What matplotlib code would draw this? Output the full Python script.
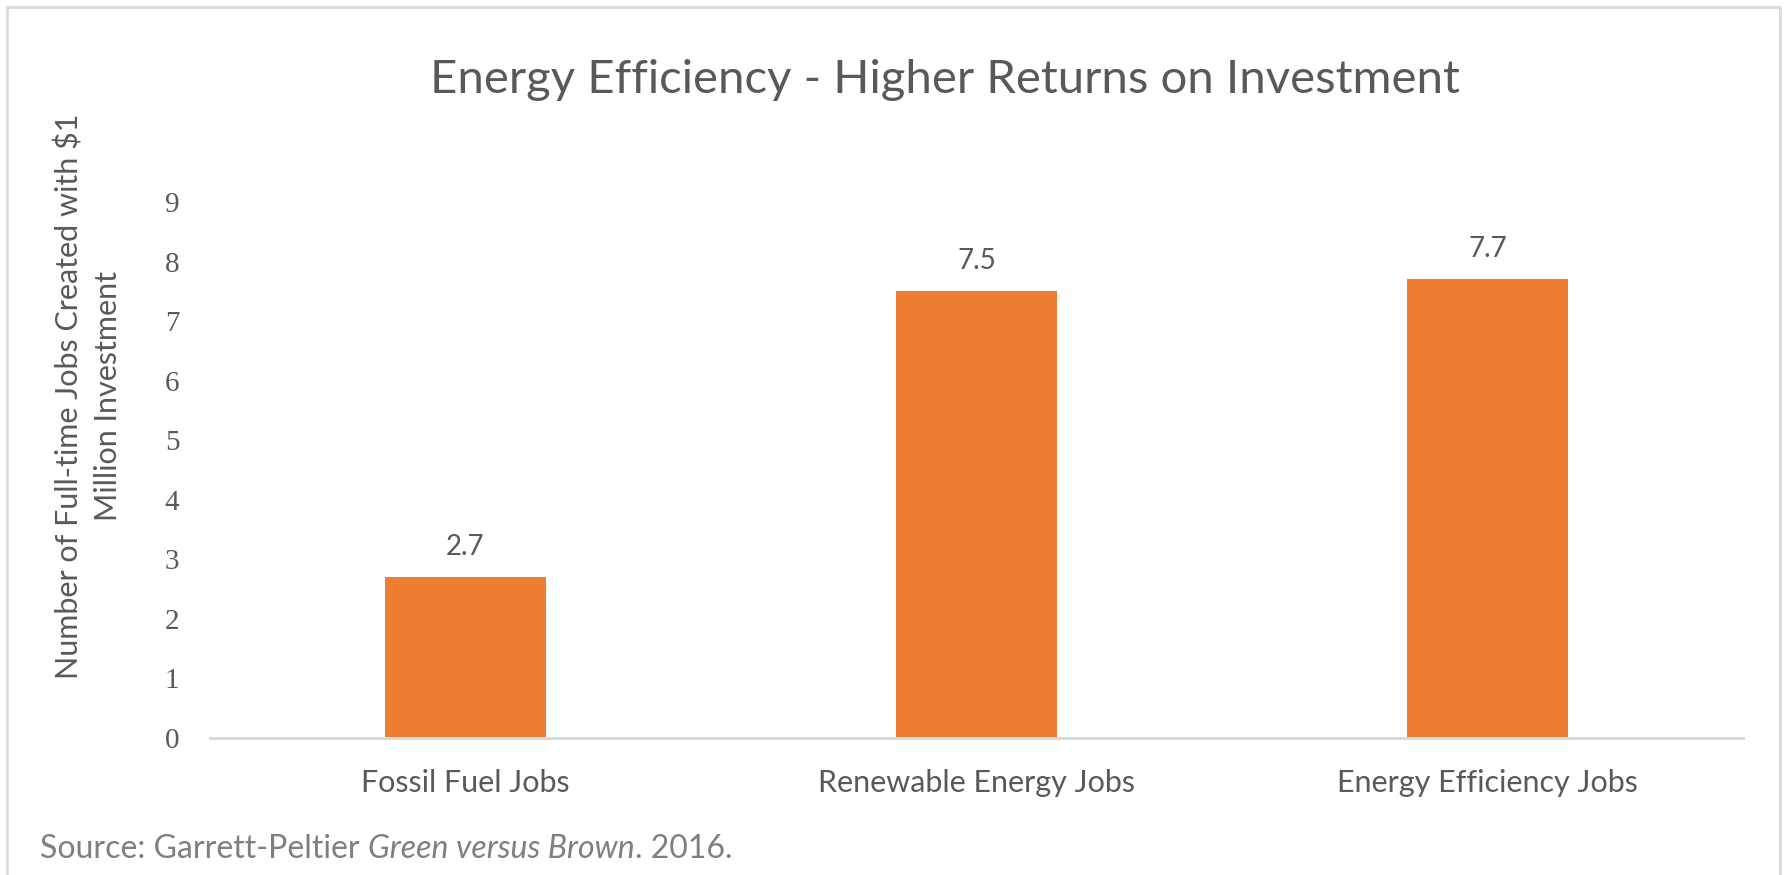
import matplotlib
matplotlib.use("Agg")
import matplotlib.pyplot as plt
from matplotlib.patches import Rectangle

# data
categories = ['Fossil Fuel Jobs', 'Renewable Energy Jobs', 'Energy Efficiency Jobs']
jobs_per_million = [2.7, 7.5, 7.7]
y_ticks = list(range(0, 10))

BAR_COLOR = '#ED7D31'
TEXT_GRAY = '#595959'
LINE_GRAY = '#D9D9D9'

W, H = 1786, 875
fig = plt.figure(figsize=(W / 100, H / 100), dpi=100)
fig.patch.set_facecolor('white')

# thin outer frame of the chart area
fig.add_artist(Rectangle((7 / W, -0.05), (1780 - 7) / W, 1 - 7 / H + 0.05,
                         transform=fig.transFigure, fill=False,
                         edgecolor=LINE_GRAY, linewidth=2))

ax = fig.add_axes([210 / W, (H - 738) / H, (1743 - 210) / W, (738 - 202) / H])
x = range(len(categories))
bars = ax.bar(x, jobs_per_million, width=0.317, color=BAR_COLOR, zorder=2)

for b, v in zip(bars, jobs_per_million):
    ax.annotate(f'{v}', (b.get_x() + b.get_width() / 2, v),
                xytext=(0, 22), textcoords='offset points',
                ha='center', va='center', fontsize=20,
                family='Lato', color=TEXT_GRAY)

ax.set_xlim(-0.5, 2.5)
ax.set_ylim(0, 9)
ax.set_yticks(y_ticks)
ax.set_yticklabels([str(t) for t in y_ticks], family='Liberation Serif',
                   fontsize=21, color=TEXT_GRAY)
ax.set_xticks(list(x))
ax.set_xticklabels(categories, family='Lato', fontsize=22, color=TEXT_GRAY)
ax.tick_params(axis='both', length=0)
ax.tick_params(axis='y', pad=22)
ax.tick_params(axis='x', pad=22)

for side in ['top', 'right', 'left']:
    ax.spines[side].set_visible(False)
ax.spines['bottom'].set_color(LINE_GRAY)
ax.spines['bottom'].set_linewidth(2.2)

fig.text(945 / W, 1 - 80 / H, 'Energy Efficiency - Higher Returns on Investment',
         ha='center', va='center', fontsize=34, family='Lato',
         color=TEXT_GRAY)

fig.text(88 / W, 1 - 396 / H,
         'Number of Full-time Jobs Created with $1\nMillion Investment',
         rotation=90, ha='center', va='center', fontsize=22, family='Lato',
         color=TEXT_GRAY, linespacing=1.45, multialignment='center')

# source line: normal / italic / normal pieces placed one after another
fig.canvas.draw()
renderer = fig.canvas.get_renderer()
x_px = 40
pieces = [('Source: Garrett-Peltier ', 'normal'),
          ('Green versus Brown', 'italic'),
          ('. 2016.', 'normal')]
for txt, style in pieces:
    t = fig.text(x_px / W, 1 - 849 / H, txt, ha='left', va='center',
                 fontsize=23, family='Lato', style=style, color='#7F7F7F')
    x_px += t.get_window_extent(renderer).width

fig.savefig('out.png', dpi=100, facecolor='white')
